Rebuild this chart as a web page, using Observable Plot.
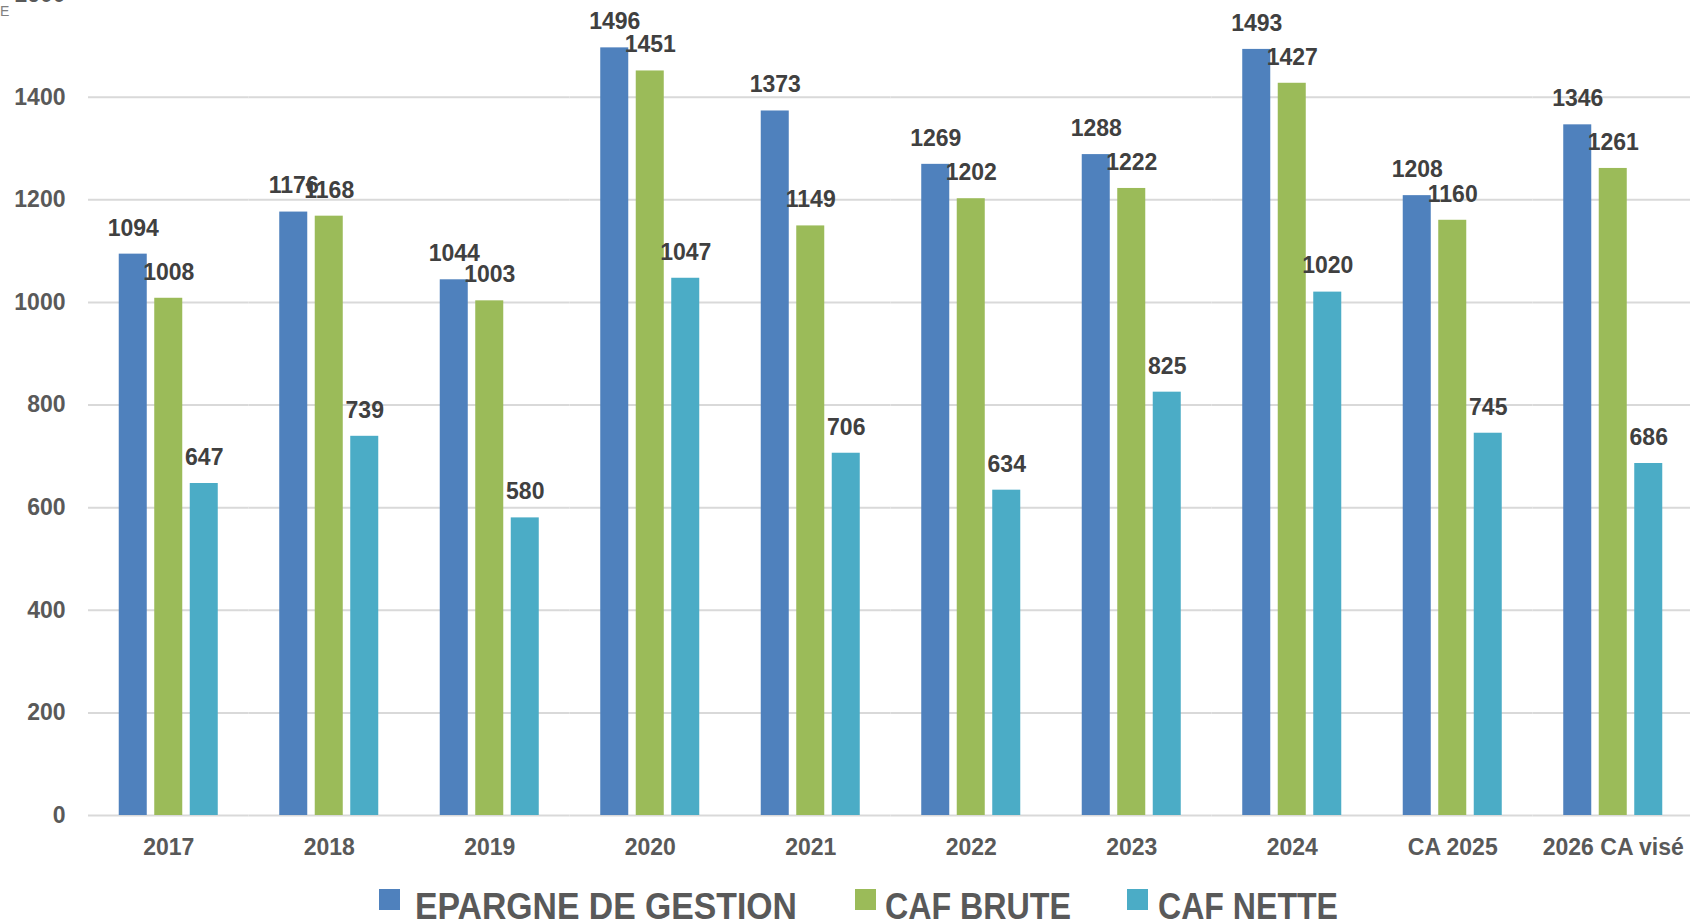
<!DOCTYPE html>
<html>
<head>
<meta charset="utf-8">
<script src="https://cdn.jsdelivr.net/npm/d3@7"></script>
<script src="https://cdn.jsdelivr.net/npm/@observablehq/plot@0.6"></script>
<style>
html, body { margin: 0; padding: 0; background: #fff; overflow: hidden; width: 1690px; height: 923px; }
#wrap { position: relative; width: 1690px; height: 923px; }
#chart { position: absolute; left: 0; top: 0; }
#corner { position: absolute; left: 0px; top: 3px; font: 14px "Liberation Sans", sans-serif; color: #808080; }
#legend { position: absolute; left: 0; top: 870px; }
</style>
</head>
<body>
<div id="wrap">
  <div id="chart"></div>
  <div id="corner">E</div>
  <div id="legend"></div>
</div>
<script>
// ---- Data ----
const categories = ["2017", "2018", "2019", "2020", "2021", "2022", "2023", "2024", "CA 2025", "2026 CA visé"];
const series = ["EPARGNE DE GESTION", "CAF BRUTE", "CAF NETTE"];
const epargneDeGestion = [1094, 1176, 1044, 1496, 1373, 1269, 1288, 1493, 1208, 1346];
const cafBrute = [1008, 1168, 1003, 1451, 1149, 1202, 1222, 1427, 1160, 1261];
const cafNette = [647, 739, 580, 1047, 706, 634, 825, 1020, 745, 686];
const yTicks = [0, 200, 400, 600, 800, 1000, 1200, 1400, 1600];
const colors = ["#4F81BD", "#9BBB59", "#4BACC6"];

const seriesValues = [epargneDeGestion, cafBrute, cafNette];
const rows = categories.flatMap((cat, i) =>
  series.map((s, j) => ({cat, s, v: seriesValues[j][i]}))
);

const chart = Plot.plot({
  width: 1690,
  height: 870,
  marginTop: -6,
  marginBottom: 55,
  marginLeft: 88,
  marginRight: -3,
  style: {
    fontFamily: "'Liberation Sans', Arial, sans-serif",
    fontSize: "23px",
    fontWeight: "bold",
    color: "#595959",
    background: "transparent"
  },
  fx: {domain: categories, padding: 0, round: false, label: null, axis: null},
  x: {domain: series, paddingInner: 0.211, paddingOuter: 0.866, round: false, axis: null},
  y: {domain: [0, 1600], axis: null},
  color: {domain: series, range: colors},
  marks: [
    Plot.gridY(yTicks, {stroke: "#d9d9d9", strokeOpacity: 1, strokeWidth: 2}),
    Plot.barY(rows, {fx: "cat", x: "s", y: "v", fill: "s"}),
    Plot.text(rows, {fx: "cat", x: "s", y: "v", text: d => String(d.v), dy: -26,
      fill: "#404040", fontSize: 23, fontWeight: "bold"}),
    Plot.axisY(yTicks, {tickSize: 0, tickPadding: 23, label: null, fontSize: 23, tickFormat: d => String(d)}),
    Plot.axisFx({anchor: "bottom", tickSize: 0, tickPadding: 23, label: null, fontSize: 23})
  ]
});
document.getElementById("chart").appendChild(chart);

// ---- Legend ----
const legendLayout = [
  {sx: 379, tx: 415, tw: 382},
  {sx: 855, tx: 885, tw: 186},
  {sx: 1127, tx: 1158, tw: 180}
];
const lsvg = d3.select("#legend").append("svg").attr("width", 1690).attr("height", 53);
series.forEach((s, i) => {
  const L = legendLayout[i];
  lsvg.append("rect").attr("x", L.sx).attr("y", 19).attr("width", 21).attr("height", 21).attr("fill", colors[i]);
  lsvg.append("text").attr("x", L.tx).attr("y", 49)
    .attr("font-family", "'Liberation Sans', Arial, sans-serif")
    .attr("font-size", 36).attr("font-weight", "bold").attr("fill", "#595959")
    .attr("textLength", L.tw).attr("lengthAdjust", "spacingAndGlyphs")
    .text(s);
});
</script>
</body>
</html>
